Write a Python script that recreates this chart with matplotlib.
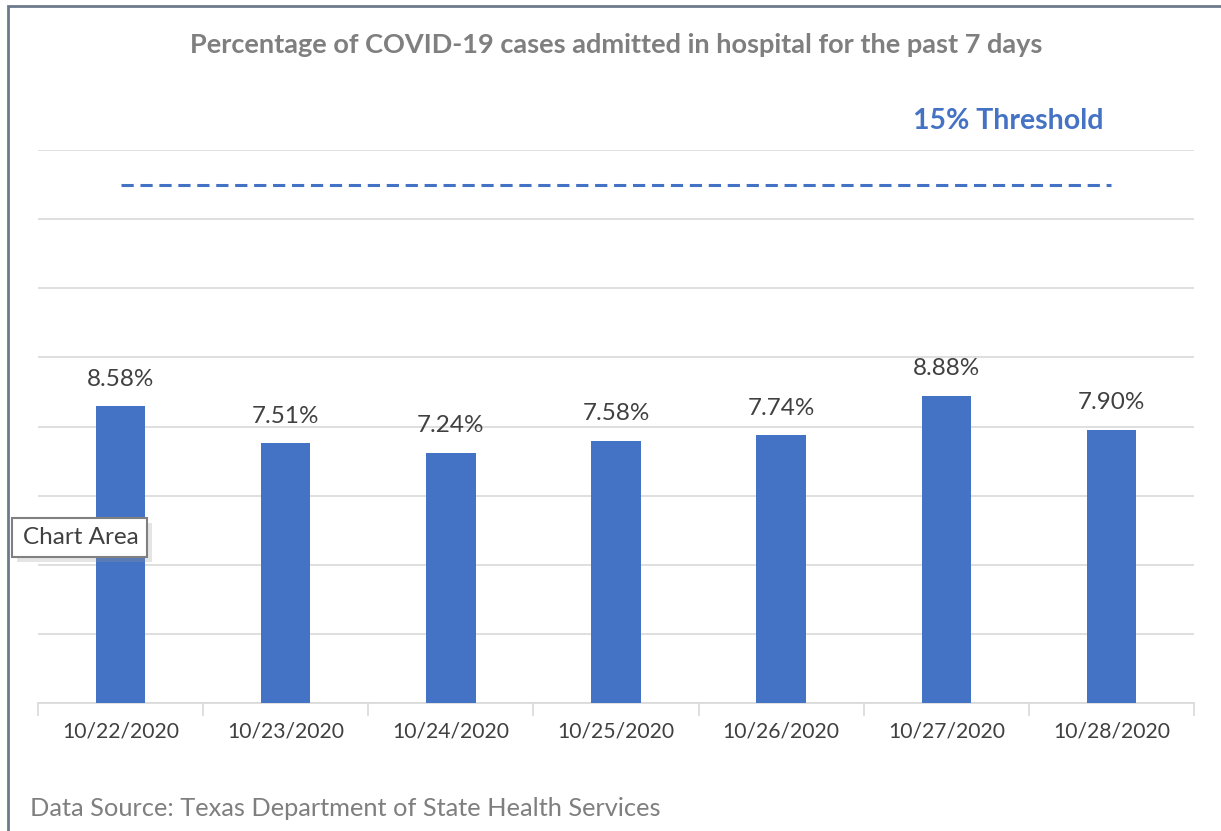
import matplotlib.pyplot as plt
from matplotlib.patches import Rectangle

# data
dates = ["10/22/2020", "10/23/2020", "10/24/2020", "10/25/2020",
         "10/26/2020", "10/27/2020", "10/28/2020"]
pct = [8.58, 7.51, 7.24, 7.58, 7.74, 8.88, 7.90]
threshold = 15

plt.rcParams['font.family'] = ['Lato', 'DejaVu Sans']

W, H = 1221, 831
fig = plt.figure(figsize=(W/100, H/100), dpi=100)
ax = fig.add_axes([38/W, 1-703/H, (1194-38)/W, (703-150)/H])

x = list(range(len(dates)))
ax.bar(x, pct, width=0.3, color="#4472C4", zorder=3)
for xi, v in zip(x, pct):
    ax.text(xi, v + 0.48, f"{v:.2f}%", ha="center", va="bottom",
            fontsize=17.5, color="#404040")

# threshold line
ax.plot([x[0], x[-1]], [threshold, threshold], color="#4472C4",
        linestyle=(0, (4, 2.2)), linewidth=2.2, zorder=4)
ax.text(5.95, 16.85, "15% Threshold", ha="right", va="center",
        fontsize=20.5, fontweight="bold", color="#4472C4")

ax.set_xlim(-0.5, 6.5)
ax.set_ylim(0, 16)
ax.set_yticks(range(0, 17, 2))
ax.yaxis.grid(True, color="#d9d9d9", linewidth=1.2)
ax.set_axisbelow(True)
ax.tick_params(axis="y", left=False, labelleft=False)
for s in ["top", "right", "left"]:
    ax.spines[s].set_visible(False)
ax.spines["bottom"].set_color("#d9d9d9")
ax.spines["bottom"].set_linewidth(1.2)

ax.set_xticks(x)
ax.set_xticklabels(dates, fontsize=15.2, color="#404040")
ax.tick_params(axis="x", length=0, pad=13)
ax.set_xticks([i - 0.5 for i in range(len(dates) + 1)], minor=True)
ax.tick_params(axis="x", which="minor", length=9, color="#d9d9d9", width=1.2)

fig.text(616/W, 1-45/H, "Percentage of COVID-19 cases admitted in hospital for the past 7 days",
         ha="center", va="center", fontsize=19.5, fontweight="bold", color="#7f7f7f")
fig.text(30/W, 1-808/H, "Data Source: Texas Department of State Health Services",
         ha="left", va="center", fontsize=18.3, color="#7f7f7f")

# outer frame
fig.add_artist(Rectangle((8/W, -0.05), 1.2, 1-6/H+0.05, transform=fig.transFigure,
                         fill=False, edgecolor="#6d7a8c", linewidth=2))

# tooltip with soft shadow
fig.add_artist(Rectangle((17/W, 1-562/H), 135/W, 39/H, transform=fig.transFigure,
                         facecolor="#9a9a9a", edgecolor="none", alpha=0.25, zorder=5))
fig.add_artist(Rectangle((12/W, 1-557/H), 135/W, 39/H, transform=fig.transFigure,
                         facecolor="white", edgecolor="#808080", linewidth=1.5, zorder=6))
fig.text(23/W, 1-537/H, "Chart Area", ha="left", va="center", fontsize=17.5,
         color="#404040", zorder=7)

fig.savefig("out.png", dpi=100)
